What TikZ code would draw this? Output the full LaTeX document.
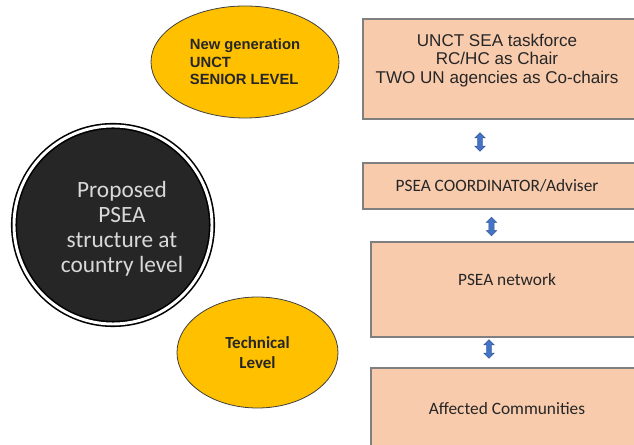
\documentclass[tikz,border=0pt]{standalone}
\usepackage{fontspec}
\setmainfont{Liberation Sans}
\newfontfamily\carlito{Carlito}
\usetikzlibrary{shapes.geometric,shapes.arrows}

\definecolor{levelgold}{HTML}{FFC000}
\definecolor{tierfill}{HTML}{F8CBAD}
\definecolor{tierline}{HTML}{7F7F7F}
\definecolor{linkblue}{HTML}{4472C4}
\definecolor{corefill}{HTML}{262626}
\definecolor{inktext}{HTML}{262626}

\tikzset{
  level/.style={ellipse, draw=black!75, line width=0.6pt, fill=levelgold, inner sep=0pt, text=inktext},
  tier/.style={rectangle, draw=tierline, line width=1.1pt, fill=tierfill, inner sep=0pt},
  tiertext/.style={text=inktext, align=center, inner sep=0pt, font=\carlito\fontsize{13}{15}\selectfont},
  link/.style={double arrow, double arrow head extend=1.9pt, inner xsep=0pt, inner ysep=1.9pt,
    minimum height=14pt, fill=linkblue, draw=linkblue!70!black, line width=0.3pt, rotate=90},
}

\begin{document}
\begin{tikzpicture}[x=0.75pt,y=0.75pt]
  \useasboundingbox (0,0) rectangle (634,445);
  \clip (0,0) rectangle (634,445);

  % left side: levels
  \node[level, minimum width=141pt, minimum height=84pt, align=left,
        font=\bfseries\fontsize{11.1}{13.1}\selectfont] (senior) at (245,383)
        {New generation\\UNCT\\SENIOR LEVEL};
  \node[circle, fill=corefill, draw=black, line width=1.2pt, double=white, double distance=2.2pt,
        minimum size=148.5pt, inner sep=0pt] (core) at (113,220) {};
  \node[text=black!15, align=center, font=\carlito\fontsize{17.5}{18.8}\selectfont] (coretext)
        at ([xshift=9*0.75pt,yshift=-4*0.75pt]core.center) {Proposed\\PSEA\\structure at\\country level};
  \node[level, minimum width=120.75pt, minimum height=83.25pt, align=center,
        font=\carlito\bfseries\fontsize{12.7}{15}\selectfont] (technical) at (257.5,92.5)
        {Technical\\Level};

  % right side: tiers
  \node[tier, minimum width=211.5pt, minimum height=75pt] (taskforce) at (504,376) {};
  \node[tier, minimum width=211.5pt, minimum height=34.5pt] (coordinator) at (504,259) {};
  \node[tier, minimum width=205.5pt, minimum height=71.25pt] (network) at (508,155.5) {};
  \node[tier, minimum width=205.5pt, minimum height=76.5pt] (communities) at (508,26) {};

  \node[tiertext, font=\fontsize{12.8}{13.9}\selectfont] at ([xshift=-7*0.75pt,yshift=8.5*0.75pt]taskforce.center)
        {UNCT SEA taskforce\\RC/HC as Chair\\TWO UN agencies as Co-chairs};
  \node[tiertext] at ([xshift=-7*0.75pt]coordinator.center) {PSEA COORDINATOR/Adviser};
  \node[tiertext] at ([xshift=-1*0.75pt,yshift=10*0.75pt]network.center) {PSEA network};
  \node[tiertext] at ([xshift=-1*0.75pt,yshift=10*0.75pt]communities.center) {Affected Communities};

  % links between tiers
  \node[link] (up1) at (480,303) {};
  \node[link] (up2) at (491.5,218.5) {};
  \node[link] (up3) at (489,96) {};
\end{tikzpicture}
\end{document}
